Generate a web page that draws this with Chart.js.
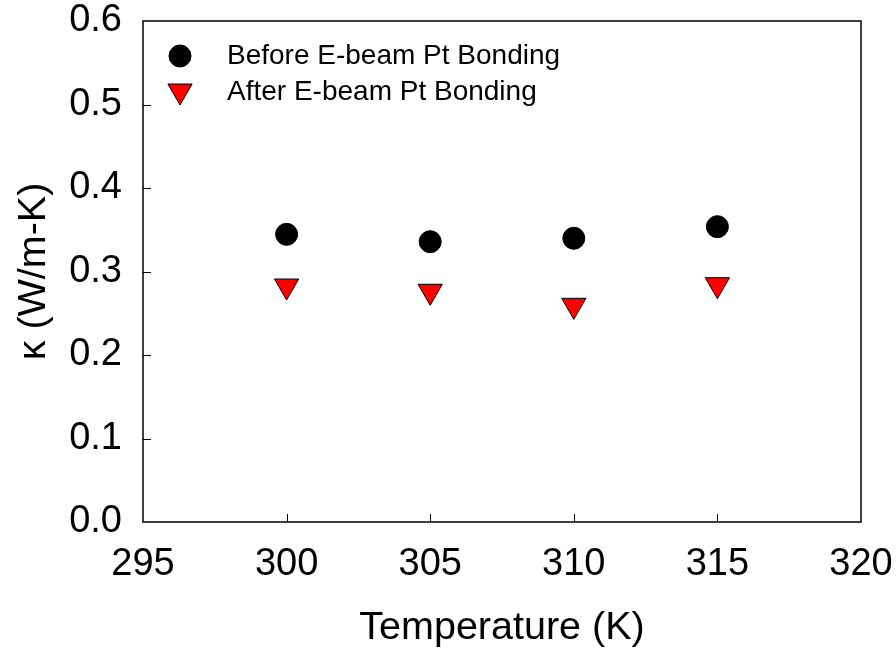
<!DOCTYPE html>
<html>
<head>
<meta charset="utf-8">
<script src="https://cdn.jsdelivr.net/npm/chart.js@4/dist/chart.umd.min.js"></script>
<style>
  html, body { margin: 0; padding: 0; background: #fff; }
  #wrap { width: 896px; height: 652px; }
</style>
</head>
<body>
<div id="wrap"><canvas id="kappaChart"></canvas></div>
<script>
/*  data
-------------------------------------------------------*/
var temps = [300, 305, 310, 315];
var kappaBefore = [0.3445, 0.3357, 0.3398, 0.3537];
var kappaAfter = [0.2826, 0.2763, 0.2595, 0.2842];
var seriesNames = ['Before E-beam Pt Bonding', 'After E-beam Pt Bonding'];
var xTitle = 'Temperature (K)';
var yTitle = '\u03ba (W/m-K)';

var FONT = "'Liberation Sans', Arial, sans-serif";

/*  frame, inward ticks and legend
-------------------------------------------------------*/
var framePlugin = {
  id: 'frame',
  afterDraw: function (chart) {
    var ctx = chart.ctx, a = chart.chartArea;
    var xs = chart.scales.x, ys = chart.scales.y;
    ctx.save();
    ctx.strokeStyle = '#000';
    ctx.lineWidth = 1.5;
    ctx.strokeRect(a.left, a.top, a.right - a.left, a.bottom - a.top);
    ctx.lineWidth = 1;
    ctx.beginPath();
    xs.ticks.forEach(function (t, i) {
      if (i == 0 || i == xs.ticks.length - 1) return;
      var px = Math.round(xs.getPixelForValue(t.value)) + 0.5;
      ctx.moveTo(px, a.bottom);
      ctx.lineTo(px, a.bottom - 8);
    });
    ys.ticks.forEach(function (t, i) {
      if (i == 0 || i == ys.ticks.length - 1) return;
      var py = Math.round(ys.getPixelForValue(t.value)) + 0.5;
      ctx.moveTo(a.left, py);
      ctx.lineTo(a.left + 8, py);
    });
    ctx.stroke();

    // legend inside the plot
    var markY = [a.top + 35, a.top + 70];
    var textY = [a.top + 43, a.top + 79];
    chart.data.datasets.forEach(function (ds, i) {
      ctx.fillStyle = ds.backgroundColor;
      ctx.strokeStyle = ds.borderColor;
      ctx.lineWidth = ds.borderWidth;
      Chart.helpers.drawPoint(ctx, {
        pointStyle: ds.pointStyle,
        rotation: ds.rotation || 0,
        radius: ds.pointRadius,
        borderWidth: ds.borderWidth
      }, a.left + 37, markY[i]);
      ctx.fillStyle = '#000';
      ctx.font = '28px ' + FONT;
      ctx.textBaseline = 'alphabetic';
      ctx.textAlign = 'left';
      ctx.fillText(ds.label, a.left + 84, textY[i]);
    });
    ctx.restore();
  }
};

/*  chart
-------------------------------------------------------*/
var ctx = document.getElementById('kappaChart');
var kappaChart = new Chart(ctx, {
  type: 'scatter',
  data: {
    datasets: [{
        label: seriesNames[0],
        data: temps.map(function (t, i) { return {x: t, y: kappaBefore[i]}; }),
        pointStyle: 'circle',
        pointRadius: 11,
        backgroundColor: '#000',
        borderColor: '#000',
        borderWidth: 1
      }, {
        label: seriesNames[1],
        data: temps.map(function (t, i) { return {x: t, y: kappaAfter[i]}; }),
        pointStyle: 'triangle',
        rotation: 180,
        pointRadius: 14,
        backgroundColor: '#ff0000',
        borderColor: '#000',
        borderWidth: 1
      }
    ]
  },
  options: {
    responsive: true,
    maintainAspectRatio: false,
    animation: false,
    events: [],
    layout: { padding: { top: 21, right: 35, left: 0, bottom: 0 } },
    plugins: {
      legend: { display: false },
      tooltip: { enabled: false }
    },
    scales: {
      x: {
        type: 'linear',
        min: 295,
        max: 320,
        grid: { display: false, drawTicks: false },
        border: { display: false },
        ticks: {
          stepSize: 5,
          padding: 20,
          color: '#000',
          font: { family: FONT, size: 38 },
          maxRotation: 0
        },
        title: {
          display: true,
          text: xTitle,
          color: '#000',
          font: { family: FONT, size: 39.5 },
          padding: { top: 0, bottom: 0 }
        },
        afterFit: function (scale) {
          scale.height = 130;
          scale.paddingLeft = 0;
          scale.paddingRight = 0;
        }
      },
      y: {
        min: 0,
        max: 0.6,
        grid: { display: false, drawTicks: false },
        border: { display: false },
        ticks: {
          stepSize: 0.1,
          padding: 21,
          color: '#000',
          font: { family: FONT, size: 38 },
          callback: function (v) { return v.toFixed(1); }
        },
        title: {
          display: true,
          text: yTitle,
          color: '#000',
          font: { family: FONT, size: 39.5 },
          padding: { top: 10, bottom: 0 }
        },
        afterFit: function (scale) {
          scale.width = 143;
          scale.paddingTop = 0;
          scale.paddingBottom = 0;
        }
      }
    }
  },
  plugins: [framePlugin]
});
</script>
</body>
</html>
